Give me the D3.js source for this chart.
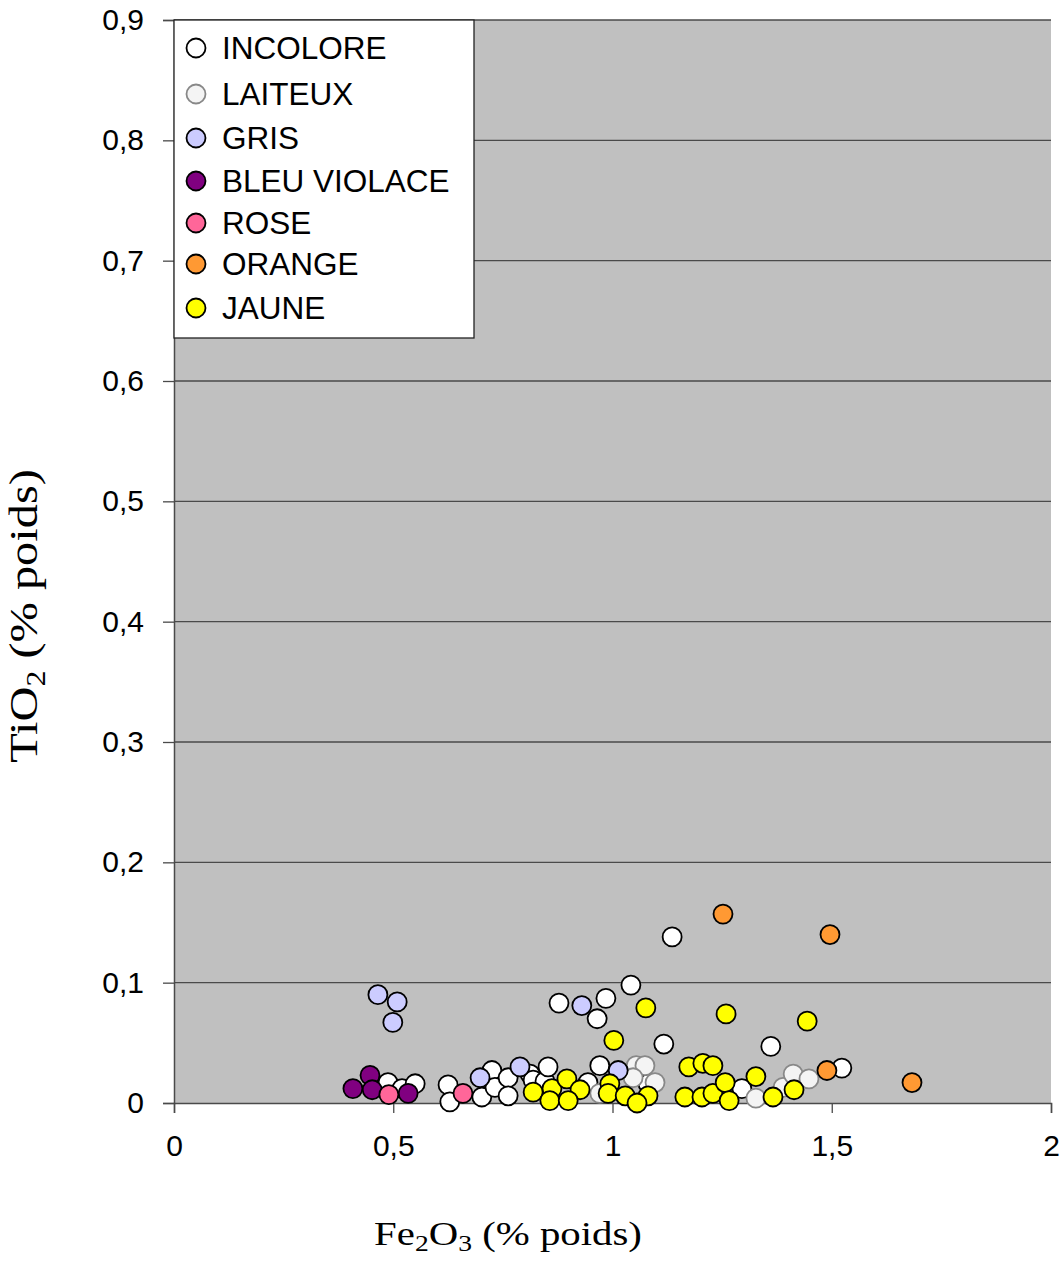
<!DOCTYPE html>
<html><head><meta charset="utf-8">
<script src="https://cdn.jsdelivr.net/npm/d3@7"></script>
<style>body{margin:0;background:#fff;} svg{display:block;}</style>
</head><body>
<svg id="c" width="1063" height="1261"></svg>
<script>
const seriesNames = ["INCOLORE","LAITEUX","GRIS","BLEU VIOLACE","ROSE","ORANGE","JAUNE"];
const seriesFill = ["#ffffff","#f4f4f4","#ccccff","#800080","#ff6699","#ff9933","#ffff00"];
const seriesStroke = ["#000","#888","#000","#000","#000","#000","#000"];
const xTicks = [0,0.5,1,1.5,2];
const xTickLabels = ["0","0,5","1","1,5","2"];
const yTicks = [0,0.1,0.2,0.3,0.4,0.5,0.6,0.7,0.8,0.9];
const yTickLabels = ["0","0,1","0,2","0,3","0,4","0,5","0,6","0,7","0,8","0,9"];

const incolore = [[1.136,0.138],[1.042,0.098],[0.985,0.087],[0.878,0.083],[0.965,0.070],[1.117,0.049],[1.361,0.047],[1.523,0.029],[0.971,0.031],[0.488,0.017],[0.520,0.012],[0.550,0.016],[0.625,0.015],[0.629,0.001],[0.702,0.005],[0.725,0.027],[0.732,0.013],[0.762,0.021],[0.762,0.006],[0.812,0.024],[0.819,0.019],[0.846,0.018],[0.853,0.030],[0.944,0.017],[1.081,0.016],[1.295,0.012]];
const laiteux = [[0.971,0.008],[1.054,0.031],[1.074,0.031],[1.047,0.021],[1.097,0.017],[1.327,0.004],[1.389,0.013],[1.412,0.024],[1.448,0.020]];
const gris = [[0.465,0.090],[0.509,0.084],[0.499,0.067],[0.930,0.081],[0.698,0.021],[0.789,0.030],[1.013,0.027]];
const bleuViolace = [[0.408,0.012],[0.447,0.023],[0.452,0.011],[0.534,0.008]];
const rose = [[0.490,0.007],[0.659,0.008]];
const orange = [[1.252,0.157],[1.496,0.140],[1.489,0.027],[1.683,0.017]];
const jaune = [[1.076,0.079],[1.003,0.052],[1.259,0.074],[1.444,0.068],[0.819,0.009],[0.862,0.012],[0.896,0.020],[0.926,0.011],[0.857,0.002],[0.899,0.002],[0.994,0.016],[0.990,0.008],[1.029,0.006],[1.081,0.006],[1.056,0.000],[1.174,0.030],[1.206,0.033],[1.229,0.031],[1.165,0.005],[1.204,0.005],[1.229,0.008],[1.257,0.017],[1.266,0.002],[1.327,0.022],[1.366,0.005],[1.414,0.011]];
const seriesData = [incolore,laiteux,gris,bleuViolace,rose,orange,jaune];

const svg = d3.select("#c");
const L=174,R=1051,T=20,B=1103;
const x = d3.scaleLinear().domain([0,2]).range([L,R]);
const y = d3.scaleLinear().domain([0,0.9]).range([B,T]);

svg.append("rect").attr("x",L).attr("y",T).attr("width",R-L).attr("height",B-T).attr("fill","#c0c0c0");

// gridlines
svg.append("g").selectAll("line").data(yTicks.slice(1)).join("line")
  .attr("x1",L).attr("x2",R).attr("y1",d=>y(d)).attr("y2",d=>y(d))
  .attr("stroke","#4a4a4a").attr("stroke-width",1.3);

// y axis
const yAxis = d3.axisLeft(y).tickValues(yTicks).tickFormat((d,i)=>yTickLabels[i]).tickSize(11).tickPadding(19);
const gy = svg.append("g").attr("transform",`translate(${L},0)`).call(yAxis);
gy.select(".domain").attr("stroke","#4a4a4a").attr("stroke-width",1.5);
gy.selectAll(".tick line").attr("stroke","#4a4a4a").attr("stroke-width",1.3);
gy.selectAll("text").attr("font-family","'Liberation Sans',Arial,sans-serif").attr("font-size",30).attr("fill","#000");

// x axis
const xAxis = d3.axisBottom(x).tickValues(xTicks).tickFormat((d,i)=>xTickLabels[i]).tickSize(10).tickPadding(22);
const gx = svg.append("g").attr("transform",`translate(0,${B})`).call(xAxis);
gx.select(".domain").attr("stroke","#4a4a4a").attr("stroke-width",1.5);
gx.selectAll(".tick line").attr("stroke","#4a4a4a").attr("stroke-width",1.3);
gx.selectAll("text").attr("font-family","'Liberation Sans',Arial,sans-serif").attr("font-size",30).attr("fill","#000");

// points
seriesData.forEach((data,si)=>{
  svg.append("g").selectAll("circle").data(data).join("circle")
    .attr("cx",d=>x(d[0])).attr("cy",d=>y(d[1])).attr("r",9.5)
    .attr("fill",seriesFill[si]).attr("stroke",seriesStroke[si]).attr("stroke-width",1.8);
});

// legend
const lg = svg.append("g");
lg.append("rect").attr("x",L).attr("y",T).attr("width",300).attr("height",318)
  .attr("fill","#fff").attr("stroke","#222").attr("stroke-width",1.3);
const legendY = [48,94,138,181,223,264,308];
seriesNames.forEach((n,i)=>{
  const cy = legendY[i];
  lg.append("circle").attr("cx",196).attr("cy",cy).attr("r",9.5)
    .attr("fill",seriesFill[i]).attr("stroke",seriesStroke[i]).attr("stroke-width",1.8);
  lg.append("text").attr("x",222).attr("y",cy).attr("dy","0.36em")
    .attr("font-family","'Liberation Sans',Arial,sans-serif").attr("font-size",31.5).text(n);
});

// axis titles
const xt = svg.append("text").attr("transform","translate(508,1245) scale(1.2,1)").attr("text-anchor","middle")
  .attr("font-family","'Liberation Serif','Times New Roman',serif").attr("font-size",34);
xt.append("tspan").text("Fe");
xt.append("tspan").attr("font-size",23).attr("dy",6).text("2");
xt.append("tspan").attr("dy",-6).text("O");
xt.append("tspan").attr("font-size",23).attr("dy",6).text("3");
xt.append("tspan").attr("dy",-6).text(" (%  poids)");

const yt = svg.append("text").attr("transform","translate(37,616) rotate(-90) scale(1.18,1)").attr("text-anchor","middle")
  .attr("font-family","'Liberation Serif','Times New Roman',serif").attr("font-size",41);
yt.append("tspan").text("TiO");
yt.append("tspan").attr("font-size",27).attr("dy",8).text("2");
yt.append("tspan").attr("dy",-8).text(" (% poids)");
</script>
</body></html>
